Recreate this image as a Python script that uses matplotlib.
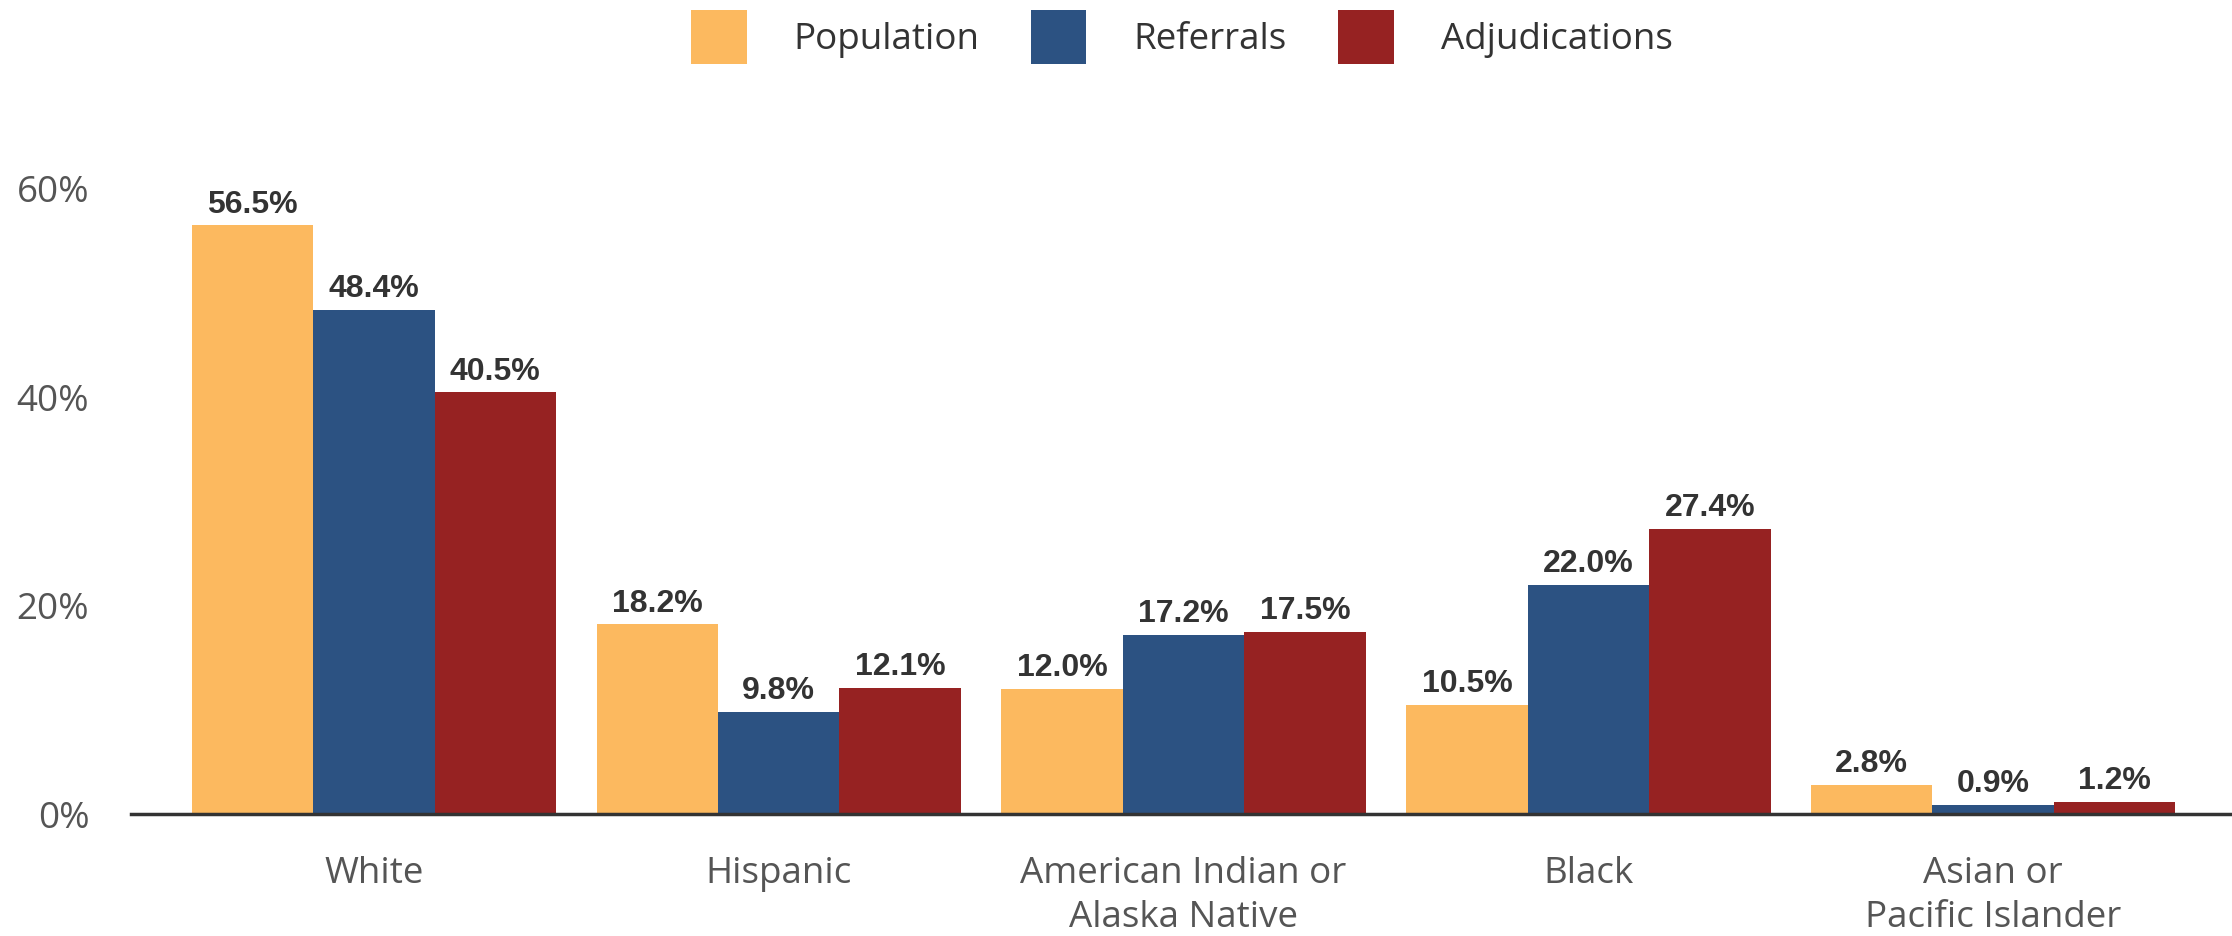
#!/usr/bin/env python3

import matplotlib
matplotlib.use("Agg")
import matplotlib.pyplot as plt
import numpy as np

# Share of youth by race/ethnicity at each stage
categories = [
    "White",
    "Hispanic",
    "American Indian or\nAlaska Native",
    "Black",
    "Asian or\nPacific Islander",
]
population = [56.5, 18.2, 12.0, 10.5, 2.8]
referrals = [48.4, 9.8, 17.2, 22.0, 0.9]
adjudications = [40.5, 12.1, 17.5, 27.4, 1.2]
y_ticks = [0, 20, 40, 60]

series = [
    ("Population", population, "#FCB95F"),
    ("Referrals", referrals, "#2C5282"),
    ("Adjudications", adjudications, "#962222"),
]

W, H = 2232, 936
fig = plt.figure(figsize=(W / 100, H / 100), dpi=100)
ax = fig.add_axes([131 / W, 122 / H, (W - 131) / W, (814 - 189) / H])

x = np.arange(len(categories))
bar_w = 0.3

for i, (name, vals, color) in enumerate(series):
    pos = x + (i - 1) * bar_w
    bars = ax.bar(pos, vals, width=bar_w, color=color, label=name, zorder=2)
    for rect, v in zip(bars, vals):
        ax.annotate(
            f"{v:.1f}%",
            xy=(rect.get_x() + rect.get_width() / 2, rect.get_height()),
            xytext=(0, 4),
            textcoords="offset points",
            ha="center",
            va="bottom",
            fontsize=23,
            fontweight="bold",
            family="Liberation Sans",
            color="#333333",
            clip_on=False,
        )

ax.set_xlim(-0.6, len(categories) - 1 + 0.59)
ax.set_ylim(0, 60)
ax.set_yticks(y_ticks)
ax.set_yticklabels([f"{t}%" for t in y_ticks])
ax.set_xticks(x)
ax.set_xticklabels(categories)

for lab in ax.get_xticklabels() + ax.get_yticklabels():
    lab.set_family("Open Sans")
    lab.set_fontsize(26.5)
    lab.set_color("#555555")
for lab in ax.get_xticklabels():
    lab.set_linespacing(1.32)

ax.tick_params(axis="y", length=0, pad=30)
ax.tick_params(axis="x", length=0, pad=30)

for side in ["top", "right", "left"]:
    ax.spines[side].set_visible(False)
ax.spines["bottom"].set_color("#333333")
ax.spines["bottom"].set_linewidth(2.5)
ax.spines["bottom"].set_zorder(3)

leg = fig.legend(
    loc="center",
    bbox_to_anchor=(1182 / W, (H - 37) / H),
    ncol=3,
    frameon=False,
    handlelength=1.5,
    handleheight=1.88,
    handletextpad=1.28,
    columnspacing=1.4,
    prop={"family": "Open Sans", "size": 26.5},
)
for t in leg.get_texts():
    t.set_color("#333333")

fig.savefig("out.png", dpi=100, facecolor="white")
